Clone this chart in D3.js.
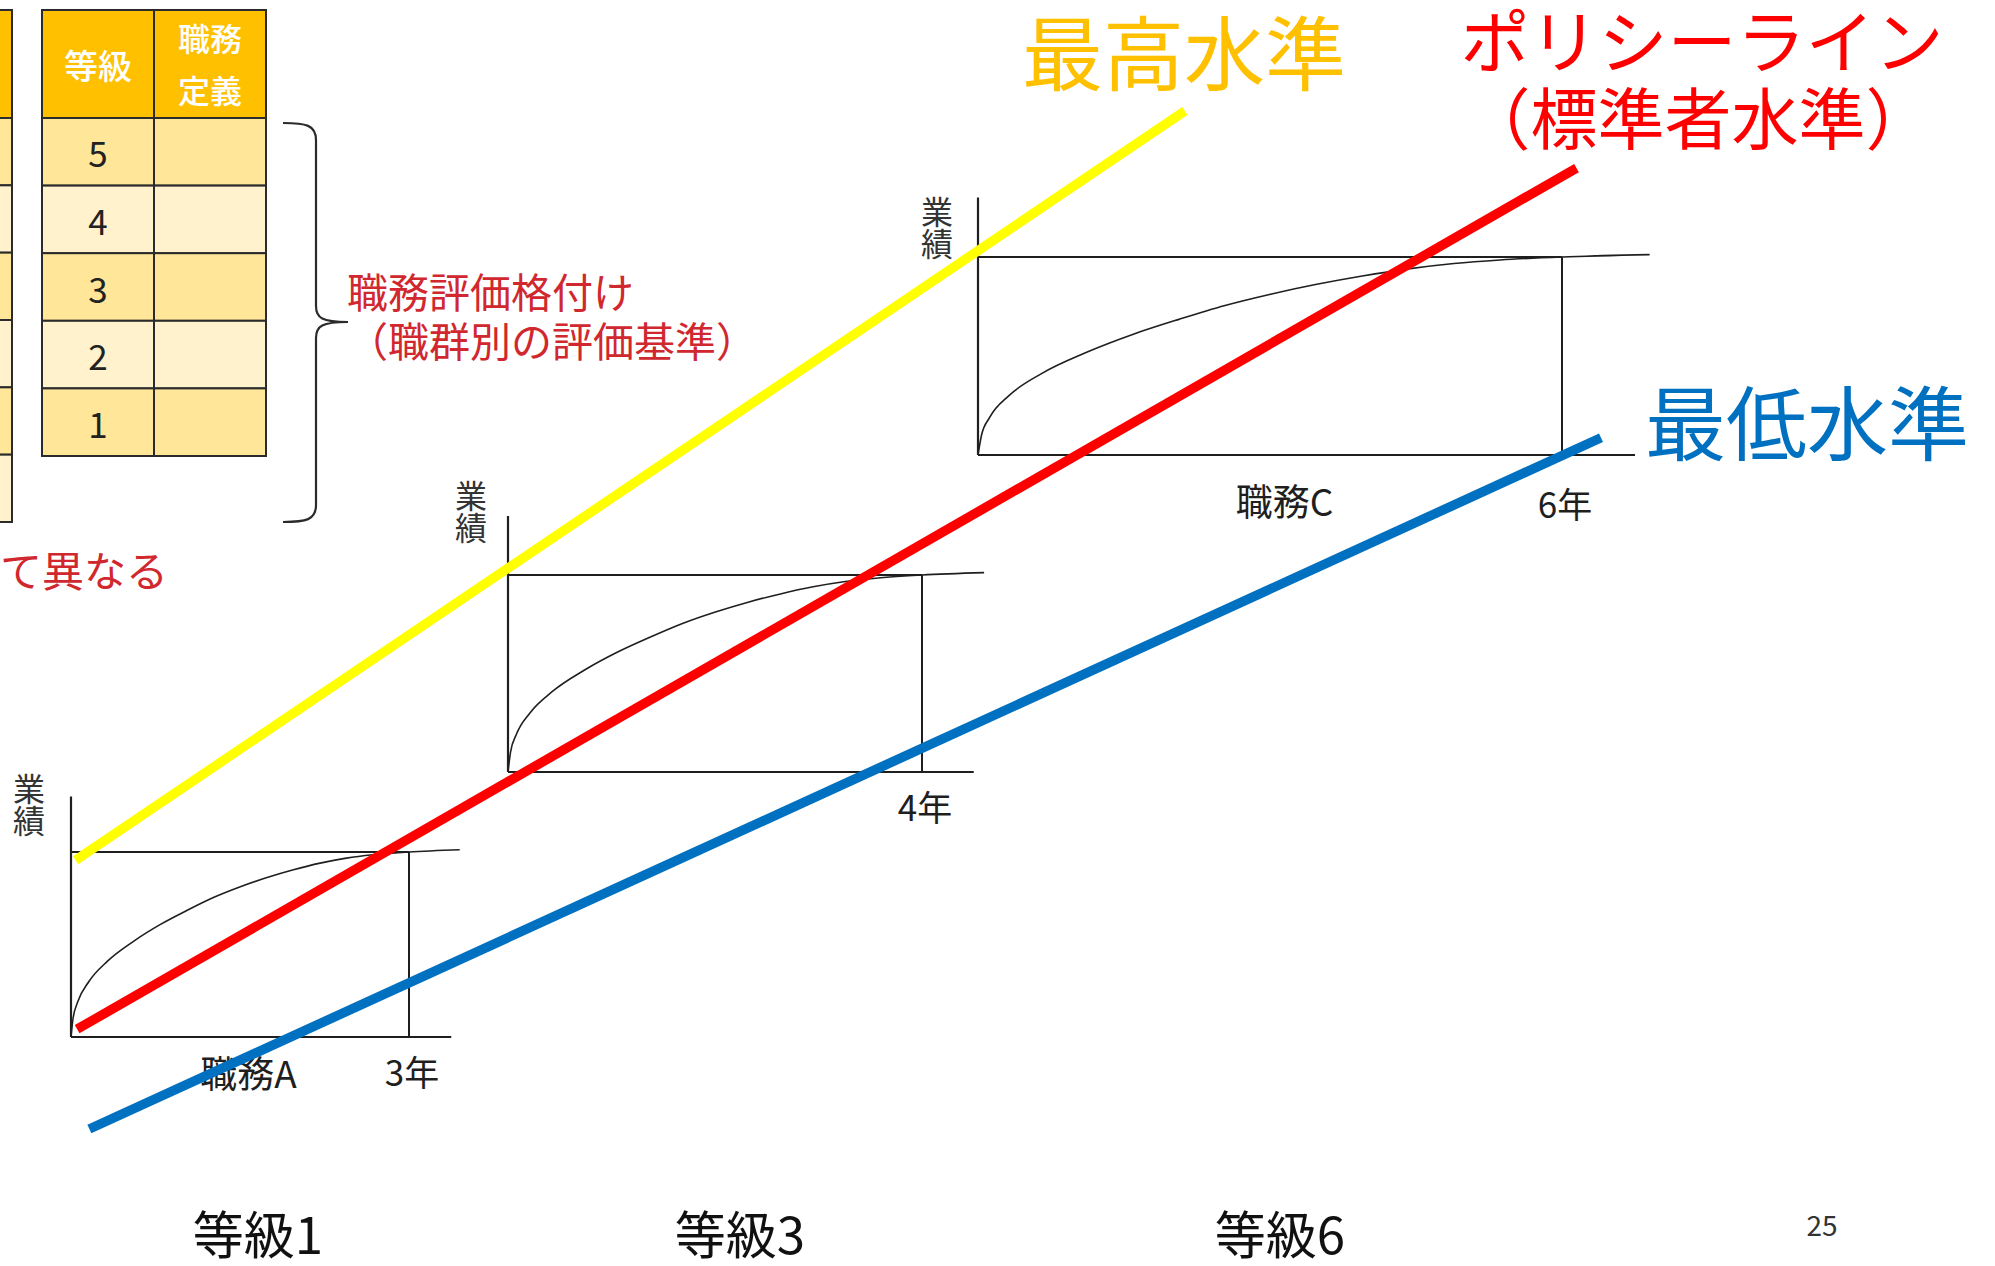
<!DOCTYPE html>
<html>
<head>
<meta charset="utf-8">
<script src="https://cdn.jsdelivr.net/npm/d3@7"></script>
<style>
  html, body { margin: 0; padding: 0; background: #ffffff; }
  svg { display: block; font-family: "Noto Sans CJK JP", "Noto Sans", sans-serif; }
</style>
</head>
<body>
<svg id="chart" width="1995" height="1266"></svg>
<script>
// ---------- data ----------
// grade table
const gradeRows = [5, 4, 3, 2, 1];
const headerGrade = "等級";
const headerDefinition = ["職務", "定義"];
const neighbourRowCount = 6;              // rows of the table cut off at the left edge
const bracketNote = ["職務評価格付け", "（職群別の評価基準）"];
const sideNote = "て異なる";

// career panels
const panelGrades = ["等級1", "等級3", "等級6"];
const panelJobs = ["職務A", null, "職務C"];
const panelYears = [3, 4, 6];
const yAxisLabel = "業績";

// growth curve shared by all panels: share of the term vs share of the top level
const growthT = [0, 0.006, 0.02, 0.053, 0.108, 0.187, 0.266, 0.344, 0.423, 0.501, 0.58, 0.658, 0.737, 0.815, 0.894, 1.0, 1.15];
const growthV = [0, 0.1, 0.19, 0.3, 0.41, 0.52, 0.61, 0.685, 0.755, 0.812, 0.862, 0.904, 0.94, 0.967, 0.985, 1.0, 1.012];

// level lines across the grades, in overall units (0–100 on both axes)
const levelNames = ["最高水準", "ポリシーライン", "最低水準"];
const levelSubtitle = "（標準者水準）";
const levelStartX = [0.3, 0.4, 1.2];
const levelStartY = [26.4, 9.8, 0];
const levelEndX = [72.8, 98.4, 100];
const levelEndY = [100, 94.4, 67.9];

const pageNumber = "25";

// ---------- layout & style ----------
const W = 1995, H = 1266;
const svg = d3.select("#chart").attr("viewBox", `0 0 ${W} ${H}`);

const colors = {
  header: "#ffc000",
  rowDark: "#ffe699",
  rowLight: "#fff2cc",
  grid: "#2b2b2b",
  ink: "#1f1f1f",
  note: "#d0282e",
  levels: ["#ffff00", "#ff0000", "#0070c0"],
  levelText: ["#ffc000", "#ff0000", "#0070c0"]
};

const panelLayout = [
  { x: 71,  y: 1037, w: 338, h: 185, labDx: -42, labTop: -264, bottomDy: 33, jobDy: 35, gradeX: 258 },
  { x: 508, y: 772,  w: 414, h: 197, labDx: -37, labTop: -292, bottomDy: 33, jobDy: 35, gradeX: 740 },
  { x: 978, y: 455,  w: 584, h: 198, labDx: -41, labTop: -259, bottomDy: 47, jobDy: 45, gradeX: 1280 }
];

// overall scales for the level lines
const gx = d3.scaleLinear().domain([0, 100]).range([71, 1601]);
const gy = d3.scaleLinear().domain([0, 100]).range([1129, 111]);

// ---------- grade table ----------
const table = svg.append("g").attr("class", "grade-table");
const colX = d3.scaleBand().domain(["grade", "definition"]).range([42, 266]);
const rowY = d3.scaleBand().domain(gradeRows).range([118, 456]);
const headTop = 10, headBottom = 118;

// table cut off at the left edge
const nbRows = d3.range(neighbourRowCount);
const nbY = d3.scaleBand().domain(nbRows).range([118, 522]);
table.append("rect")
  .attr("x", -200).attr("y", headTop).attr("width", 212).attr("height", headBottom - headTop)
  .attr("fill", colors.header).attr("stroke", colors.grid).attr("stroke-width", 2);
table.selectAll("rect.nb").data(nbRows).join("rect").attr("class", "nb")
  .attr("x", -200).attr("y", d => nbY(d)).attr("width", 212).attr("height", nbY.bandwidth())
  .attr("fill", (d, i) => i % 2 === 0 ? colors.rowDark : colors.rowLight)
  .attr("stroke", colors.grid).attr("stroke-width", 2);

// header cells
colX.domain().forEach(c => {
  table.append("rect")
    .attr("x", colX(c)).attr("y", headTop).attr("width", colX.bandwidth()).attr("height", headBottom - headTop)
    .attr("fill", colors.header).attr("stroke", colors.grid).attr("stroke-width", 2);
});
table.append("text")
  .attr("x", colX("grade") + colX.bandwidth() / 2).attr("y", (headTop + headBottom) / 2)
  .attr("text-anchor", "middle").attr("dominant-baseline", "central")
  .attr("fill", "#ffffff").attr("font-size", 34).attr("font-weight", 500)
  .text(headerGrade);
const defText = table.append("text")
  .attr("text-anchor", "middle").attr("dominant-baseline", "central")
  .attr("fill", "#ffffff").attr("font-size", 32).attr("font-weight", 500);
defText.selectAll("tspan").data(headerDefinition).join("tspan")
  .attr("x", colX("definition") + colX.bandwidth() / 2)
  .attr("y", (d, i) => (headTop + headBottom) / 2 + (i - 0.5) * 52 - 1)
  .text(d => d);

// body cells
gradeRows.forEach((g, i) => {
  colX.domain().forEach(c => {
    table.append("rect")
      .attr("x", colX(c)).attr("y", rowY(g)).attr("width", colX.bandwidth()).attr("height", rowY.bandwidth())
      .attr("fill", i % 2 === 0 ? colors.rowDark : colors.rowLight)
      .attr("stroke", colors.grid).attr("stroke-width", 2);
  });
});
table.append("g").selectAll("text").data(gradeRows).join("text")
  .attr("x", colX("grade") + colX.bandwidth() / 2)
  .attr("y", d => rowY(d) + rowY.bandwidth() / 2)
  .attr("text-anchor", "middle").attr("dominant-baseline", "central")
  .attr("fill", "#222").attr("font-size", 35)
  .text(d => d);

// curly bracket grouping the grades
svg.append("path")
  .attr("d", "M283,123 C306,123 316,125 316,140 L316,306 C316,318 322,322 348,322 C322,322 316,326 316,338 L316,505 C316,520 306,522 283,522")
  .attr("fill", "none").attr("stroke", colors.grid).attr("stroke-width", 2.2);

const noteText = svg.append("text")
  .attr("dominant-baseline", "central")
  .attr("fill", colors.note).attr("font-size", 41);
noteText.selectAll("tspan").data(bracketNote).join("tspan")
  .attr("x", 347).attr("y", (d, i) => 290 + i * 49)
  .text(d => d);

svg.append("text")
  .attr("x", 0).attr("y", 568).attr("dominant-baseline", "central")
  .attr("fill", colors.note).attr("font-size", 42)
  .text(sideNote);

// ---------- career panels ----------
panelLayout.forEach((p, i) => {
  const years = panelYears[i];
  const x = d3.scaleLinear().domain([0, years]).range([p.x, p.x + p.w]);
  const y = d3.scaleLinear().domain([0, 1]).range([p.y, p.y - p.h]);
  const g = svg.append("g").attr("class", "panel");

  // axes
  g.append("line").attr("x1", x(0)).attr("x2", x(0)).attr("y1", y(0)).attr("y2", y(1.3))
    .attr("stroke", colors.ink).attr("stroke-width", 2.2);
  g.append("line").attr("x1", x(0)).attr("x2", x(years * 1.125)).attr("y1", y(0)).attr("y2", y(0))
    .attr("stroke", colors.ink).attr("stroke-width", 2.2);
  // top level and term marker
  g.append("line").attr("x1", x(0)).attr("x2", x(years)).attr("y1", y(1)).attr("y2", y(1))
    .attr("stroke", colors.ink).attr("stroke-width", 1.8);
  g.append("line").attr("x1", x(years)).attr("x2", x(years)).attr("y1", y(1)).attr("y2", y(0))
    .attr("stroke", colors.ink).attr("stroke-width", 2);

  // growth curve
  const pts = growthT.map((t, k) => [t * years, growthV[k]]);
  g.append("path")
    .attr("d", d3.line().x(d => x(d[0])).y(d => y(d[1])).curve(d3.curveMonotoneX)(pts))
    .attr("fill", "none").attr("stroke", colors.ink).attr("stroke-width", 1.6);

  // vertical axis title
  g.append("text")
    .attr("x", p.x + p.labDx).attr("y", p.y + p.labTop)
    .style("writing-mode", "vertical-rl")
    .attr("fill", "#333").attr("font-size", 32)
    .text(yAxisLabel);

  g.append("text")
    .attr("x", x(years) + 3).attr("y", y(0) + p.bottomDy)
    .attr("text-anchor", "middle").attr("dominant-baseline", "central")
    .attr("fill", colors.ink).attr("font-size", 35)
    .text(years + "年");
  if (panelJobs[i]) {
    g.append("text")
      .attr("x", x(years * 0.525)).attr("y", y(0) + p.jobDy)
      .attr("text-anchor", "middle").attr("dominant-baseline", "central")
      .attr("fill", colors.ink).attr("font-size", 37)
      .text(panelJobs[i]);
  }

  // grade caption
  svg.append("text")
    .attr("x", p.gradeX).attr("y", 1232)
    .attr("text-anchor", "middle").attr("dominant-baseline", "central")
    .attr("fill", "#111").attr("font-size", 51)
    .text(panelGrades[i]);
});

// ---------- level lines ----------
svg.append("g").selectAll("line").data(levelNames).join("line")
  .attr("x1", (d, i) => gx(levelStartX[i])).attr("y1", (d, i) => gy(levelStartY[i]))
  .attr("x2", (d, i) => gx(levelEndX[i])).attr("y2", (d, i) => gy(levelEndY[i]))
  .attr("stroke", (d, i) => colors.levels[i]).attr("stroke-width", 9.5);

// level captions
svg.append("text")
  .attr("x", 1022).attr("y", 48).attr("dominant-baseline", "central")
  .attr("fill", colors.levelText[0]).attr("font-size", 81)
  .text(levelNames[0]);
svg.append("text")
  .attr("x", 1702).attr("y", 38).attr("text-anchor", "middle").attr("dominant-baseline", "central")
  .attr("fill", colors.levelText[1]).attr("font-size", 69)
  .text(levelNames[1]);
svg.append("text")
  .attr("x", 1698).attr("y", 114).attr("text-anchor", "middle").attr("dominant-baseline", "central")
  .attr("fill", colors.levelText[1]).attr("font-size", 67)
  .text(levelSubtitle);
svg.append("text")
  .attr("x", 1645).attr("y", 418).attr("dominant-baseline", "central")
  .attr("fill", colors.levelText[2]).attr("font-size", 81)
  .text(levelNames[2]);

// page number
svg.append("text")
  .attr("x", 1822).attr("y", 1224).attr("text-anchor", "middle").attr("dominant-baseline", "central")
  .attr("fill", "#333").attr("font-size", 28)
  .text(pageNumber);
</script>
</body>
</html>
